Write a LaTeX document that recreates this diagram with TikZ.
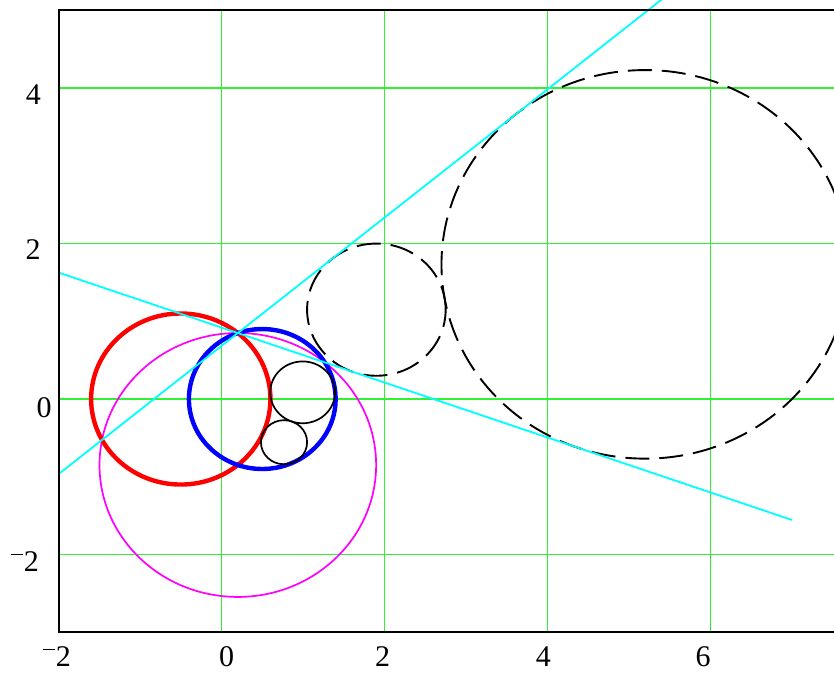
\documentclass[tikz,border=0pt]{standalone}
\usepackage{fontspec}
\setmainfont{Liberation Serif}
\newcommand\mneg{\rule[0.55em]{0.4em}{0.055em}\hspace{0.02em}}
\begin{document}
\begin{tikzpicture}[x={(81.5pt,0pt)},y={(0pt,77.75pt)},
  gridline/.style={draw={rgb,255:red,50;green,240;blue,50},line width=1.3pt},
  frameline/.style={draw=black,line width=2pt},
  ticklabel/.style={font=\fontsize{30}{36}\selectfont,inner sep=0pt},
  redc/.style={draw={rgb,255:red,255;green,0;blue,0},line width=4.4pt},
  bluec/.style={draw={rgb,255:red,0;green,0;blue,255},line width=4.4pt},
  magc/.style={draw={rgb,255:red,255;green,0;blue,255},line width=1.7pt},
  cyanl/.style={draw={rgb,255:red,0;green,255;blue,255},line width=1.8pt},
  blackc/.style={draw=black,line width=1.7pt},
  dashc/.style={draw=black,line width=1.9pt,dash pattern=on 24pt off 10pt}]
\useasboundingbox (-2.718,-3.511) rectangle (7.515,5.132);
\clip (-2.718,-3.511) rectangle (7.515,5.132);
% grid
\foreach \gx in {0,2,4,6} \draw[gridline] (\gx,-3) -- (\gx,5);
\foreach \gy in {-2,0,2,4} \draw[gridline] (-2,\gy) -- (7.6,\gy);
% circles
\draw[magc] (0.2,-0.84853) circle[radius=1.69706];
\draw[redc] (-0.5,0) circle[radius=1.1];
\draw[bluec] (0.5,0) circle[radius=0.9];
\draw[blackc] (0.99507,0.08572) circle[radius=0.39754];
\draw[blackc] (0.76684,-0.55584) circle[radius=0.28342];
\draw[dashc] (1.9,1.14906) circle[radius=0.85];
\draw[dashc] (5.1977,1.73202) circle[radius=2.4988];
% lines
\coordinate (l1a) at (-2,-0.96639);
\coordinate (l1b) at (5.5,5.22082);
\coordinate (l2a) at (-2,1.62635);
\coordinate (l2b) at (7,-1.55563);
\draw[cyanl] (l1a) -- (l1b);
\draw[cyanl] (l2a) -- (l2b);
% frame
\draw[frameline] (7.6,5) -- (-2,5) -- (-2,-3) -- (7.6,-3);
% tick labels
\node[ticklabel] (y4) at (-2.307,3.910) {4};
\node[ticklabel] (y2) at (-2.313,1.916) {2};
\node[ticklabel] (y0) at (-2.178,-0.116) {0};
\node[ticklabel] (ym2) at (-2.411,-2.096) {\mneg 2};
\node[ticklabel] (xm2) at (-2.018,-3.318) {\mneg 2};
\node[ticklabel] (x0) at (0.064,-3.318) {0};
\node[ticklabel] (x2) at (1.978,-3.318) {2};
\node[ticklabel] (x4) at (3.948,-3.318) {4};
\node[ticklabel] (x6) at (5.908,-3.318) {6};
\end{tikzpicture}
\end{document}
